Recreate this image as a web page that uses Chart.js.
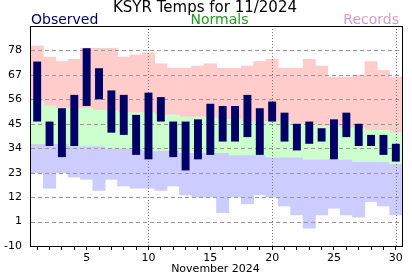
<!DOCTYPE html>
<html><head><meta charset="utf-8">
<script src="https://cdn.jsdelivr.net/npm/chart.js@4/dist/chart.umd.min.js"></script>
<style>html,body{margin:0;padding:0;background:#fff;overflow:hidden}#wrap{width:412px;height:276px}</style>
</head><body><div id="wrap"><canvas id="c" width="412" height="276"></canvas></div>
<script>
const days = ['1','2','3','4','5','6','7','8','9','10','11','12','13','14','15','16','17','18','19','20','21','22','23','24','25','26','27','28','29','30'];
const obsHigh = [73,46,52,58,79,70,60,58,49,59,57,46,46,47,54,53,53,58,52,55,50,45,46,43,47,50,45,40,40,36];
const obsLow  = [46,35,30,35,53,56,41,40,31,29,46,30,24,29,31,37,37,39,31,46,37,33,36,37,29,39,35,35,31,28];
const normHigh = [55,53,52,52,52,51,51,50,50,50,49,49,48,48,48,47,47,46,46,46,46,45,45,44,44,43,43,42,42,41];
const normLow  = [36,36,36,35,35,35,34,34,34,33,33,33,32,32,32,32,31,31,31,30,30,30,29,29,29,29,28,28,28,27];
const recHigh = [80,75,73,74,79,79,79,75,76,77,72,70,70,71,72,70,70,71,73,74,70,70,74,71,66,66,67,73,69,66];
const recLow  = [23,16,23,21,20,15,20,17,16,16,15,17,13,12,12,5,12,9,13,12,8,4,-2,4,7,4,3,10,8,4];
const yTicks = [-10,1,12,23,34,45,56,67,78];
const xLabelDays = ['5','10','15','20','25','30'];
const gridDays = ['10','20','30'];
const titleText = 'KSYR Temps for 11/2024';
const xTitle = 'November 2024';

const FONT = '"DejaVu Sans", Verdana, sans-serif';

const gridPlugin = {
  id: 'gridBetween',
  beforeDatasetDraw(chart, args) {
    if (args.index !== 0) return;
    const {ctx, chartArea: a, scales: {x, y}} = chart;
    ctx.save();
    ctx.lineWidth = 1;
    ctx.strokeStyle = '#999999';
    ctx.setLineDash([4, 3]);
    yTicks.forEach(v => {
      if (v <= y.min || v >= y.max) return;
      const py = Math.round(y.getPixelForValue(v)) + 0.5;
      ctx.beginPath(); ctx.moveTo(a.left, py); ctx.lineTo(a.right, py); ctx.stroke();
    });
    ctx.strokeStyle = '#777777';
    ctx.setLineDash([1, 2]);
    gridDays.forEach(d => {
      const px = Math.round(x.getPixelForValue(days.indexOf(d))) + 0.5;
      ctx.beginPath(); ctx.moveTo(px, a.top); ctx.lineTo(px, a.bottom); ctx.stroke();
    });
    ctx.restore();
  },
  afterDraw(chart) {
    const {ctx, chartArea: a} = chart;
    ctx.save();
    ctx.strokeStyle = '#000';
    ctx.lineWidth = 1;
    ctx.setLineDash([]);
    ctx.strokeRect(Math.round(a.left) - 0.5, Math.round(a.top) + 0.5, Math.round(a.right) - Math.round(a.left) + 1, Math.round(a.bottom) - Math.round(a.top));
    ctx.textBaseline = 'alphabetic';
    ctx.fillStyle = '#000';
    ctx.font = '15px ' + FONT;
    ctx.textAlign = 'center';
    ctx.fillText(titleText, 205, 12);
    ctx.font = '14px ' + FONT;
    ctx.textAlign = 'left';
    ctx.fillStyle = '#000066';
    ctx.fillText('Observed', 31, 24);
    ctx.fillStyle = '#229922';
    ctx.textAlign = 'center';
    ctx.fillText('Normals', (a.left + a.right) / 2 + 3, 24);
    const g = ctx.createLinearGradient(0, 13, 0, 24);
    g.addColorStop(0, '#ffa0a0');
    g.addColorStop(1, '#a0a0ff');
    ctx.fillStyle = g;
    ctx.textAlign = 'right';
    ctx.fillText('Records', 399, 24);
    ctx.fillStyle = '#000';
    ctx.font = '11px ' + FONT;
    ctx.textAlign = 'center';
    ctx.fillText(xTitle, (a.left + a.right) / 2 - 1, 272);
    ctx.restore();
  }
};

const pairs = (lo, hi) => days.map((d, i) => [lo[i], hi[i]]);

new Chart(document.getElementById('c'), {
  type: 'bar',
  data: {
    labels: days,
    datasets: [
      {label: 'Observed', data: pairs(obsLow, obsHigh), backgroundColor: '#000066', barPercentage: 0.64, categoryPercentage: 1, grouped: false, borderWidth: 0},
      {label: 'Normals', data: pairs(normLow, normHigh), backgroundColor: '#ccffcc', barPercentage: 1, categoryPercentage: 1, grouped: false, borderWidth: 0},
      {label: 'Record Highs', data: pairs(normHigh, recHigh), backgroundColor: '#ffcccc', barPercentage: 1, categoryPercentage: 1, grouped: false, borderWidth: 0},
      {label: 'Record Lows', data: pairs(recLow, normLow), backgroundColor: '#ccccff', barPercentage: 1, categoryPercentage: 1, grouped: false, borderWidth: 0}
    ]
  },
  options: {
    responsive: false,
    devicePixelRatio: 1,
    animation: false,
    layout: {padding: {top: 26, right: 10, left: 0, bottom: 0}},
    plugins: {legend: {display: false}, title: {display: false}, tooltip: {enabled: false}},
    scales: {
      x: {
        type: 'category',
        offset: true,
        border: {display: false},
        grid: {drawOnChartArea: false, drawTicks: true, tickLength: 4, offset: false, color: '#000', lineWidth: 1},
        ticks: {
          autoSkip: false, maxRotation: 0, minRotation: 0, padding: 2,
          color: '#000', font: {family: FONT, size: 11},
          callback: function(v, i) { const l = days[i]; return xLabelDays.includes(l) ? l : ''; }
        },
        afterFit(s) { s.height = 30; }
      },
      y: {
        type: 'linear', min: -10, max: 89,
        border: {display: false},
        grid: {display: false, drawTicks: false},
        afterBuildTicks(s) { s.ticks = yTicks.map(v => ({value: v})); },
        ticks: {padding: 9, color: '#000', font: {family: FONT, size: 11}},
        afterFit(s) { s.width = 31; }
      }
    }
  },
  plugins: [gridPlugin]
});
</script></body></html>
